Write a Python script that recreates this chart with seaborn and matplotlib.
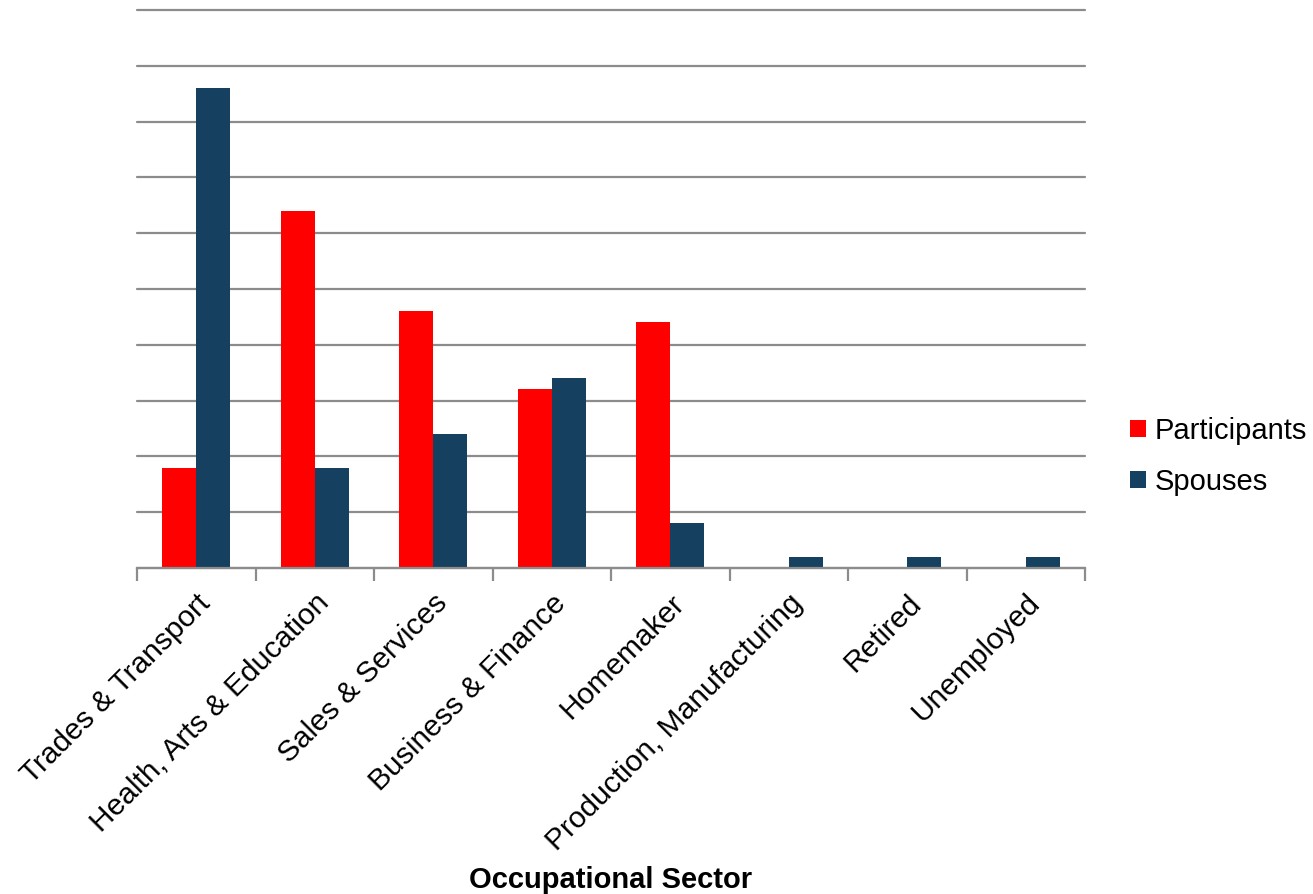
import matplotlib
matplotlib.use("Agg")
import matplotlib.pyplot as plt
import seaborn as sns
import pandas as pd
from matplotlib.ticker import FixedLocator, MultipleLocator

sectors = ["Trades & Transport", "Health, Arts & Education", "Sales & Services",
           "Business & Finance", "Homemaker", "Production, Manufacturing",
           "Retired", "Unemployed"]
participants = [9, 32, 23, 16, 22, 0, 0, 0]
spouses = [43, 9, 12, 17, 4, 1, 1, 1]
groups = ["Participants", "Spouses"]
colors = ["#ff0000", "#16405f"]

df = pd.DataFrame({
    "sector": sectors * 2,
    "group": [groups[0]] * len(sectors) + [groups[1]] * len(sectors),
    "count": participants + spouses,
})

sns.set_theme(style="white")
plt.rcParams["font.family"] = ["Liberation Sans", "DejaVu Sans"]
plt.rcParams["text.color"] = "black"

fig = plt.figure(figsize=(13.13, 8.94), dpi=100)
ax = fig.add_axes([137 / 1313, 1 - 568 / 894, (1085 - 137) / 1313, (568 - 10) / 894])

sns.barplot(data=df, x="sector", y="count", hue="group", order=sectors,
            hue_order=groups, palette=colors, width=0.574, gap=0,
            saturation=1, linewidth=0, ax=ax, zorder=3)

ax.set_xlim(-0.5, len(sectors) - 0.5)
ax.set_ylim(0, 50)
ax.yaxis.set_major_locator(MultipleLocator(5))
ax.grid(axis="y", color="#8c8c8c", linewidth=1.6, zorder=0)
for gl in ax.yaxis.get_gridlines():
    gl.set_clip_on(False)
ax.set_axisbelow(True)
ax.tick_params(axis="y", left=False, labelleft=False)

for side in ["left", "right", "top"]:
    ax.spines[side].set_visible(False)
ax.spines["bottom"].set_color("#8c8c8c")
ax.spines["bottom"].set_linewidth(1.6)
ax.spines["bottom"].set_zorder(4)

# category boundary ticks
ax.xaxis.set_minor_locator(FixedLocator([i - 0.5 for i in range(len(sectors) + 1)]))
ax.tick_params(axis="x", which="minor", direction="out", length=9, width=1.6,
               color="#8c8c8c", bottom=True)
ax.tick_params(axis="x", which="major", length=0, pad=15)
ax.set_xticks(range(len(sectors)))
ax.set_xticklabels(sectors, rotation=45, ha="right", rotation_mode="anchor",
                   fontsize=21.5, color="black")

ax.set_ylabel("")
ax.set_xlabel("Occupational Sector", fontsize=21, fontweight="bold", color="black")
ax.xaxis.set_label_coords(0.5, (568 - 880) / 558)
ax.xaxis.label.set_va("center")

leg = ax.legend(loc="center left", bbox_to_anchor=(1.035, 0.2), frameon=False,
                fontsize=21, handlelength=0.55, handleheight=0.55,
                handletextpad=0.3, labelspacing=0.78, borderaxespad=0)
for t in leg.get_texts():
    t.set_color("black")

fig.savefig("out.png", dpi=100, facecolor="white")
